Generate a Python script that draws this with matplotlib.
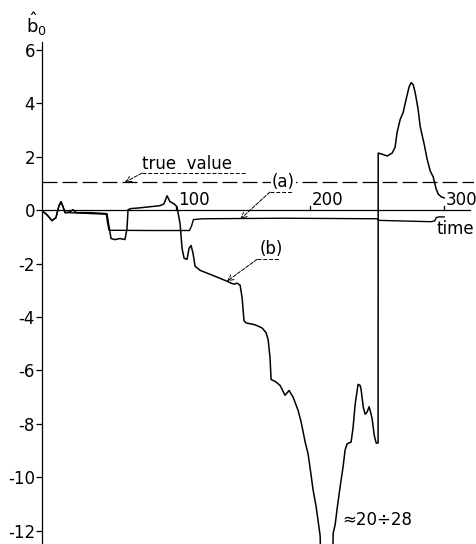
import numpy as np
import matplotlib.pyplot as plt

plt.rcParams['font.family'] = ['DejaVu Sans']
plt.rcParams['axes.unicode_minus'] = False

# estimated value of b0 over time
t_b = [0, 3.7, 7.5, 10.4, 12.7, 14.2, 15.7, 17.2, 20.9, 23.1, 25.4, 35.8, 48.5,
       50, 51.5, 54.5, 58.2, 61.9, 63.4, 64.2, 66.4, 73.1, 80.6, 88, 91, 93.3,
       95.5, 98.5, 100.7, 103, 104.5, 106, 108.2, 109.7, 111.2, 112.7, 114.2,
       117.9, 125.4, 132.8, 138, 141, 143.3, 145.5, 147.8, 149.3, 150.7, 152.2,
       158.9, 164.2, 167.2, 168.7, 170.1, 170.9, 173.9, 177.6, 181.3, 184.3,
       187.3, 191, 193.3, 196.3, 198.5, 200.7, 202.2, 204.5, 206, 207.5, 212.5,
       217.2, 218.7, 220.1, 222.4, 224.6, 226.1, 227.6, 230.6, 232.1, 233.6,
       235.1, 235.8, 237.3, 238, 239.6, 241, 242.5, 244, 245.5, 246.3, 247.8,
       249.3, 250.7, 250.8, 253.7, 257.5, 261.2, 263.4, 264.9, 267.2, 269.4,
       271.6, 273.9, 275.4, 276.9, 278.4, 280.6, 282.1, 285.1, 287.3, 289.6,
       291.8, 294, 295.5, 297.8, 300]
b_b = [-0.02, -0.17, -0.39, -0.28, 0.17, 0.32, 0.13, -0.09, -0.06, 0.02, -0.09,
       -0.09, -0.13, -0.61, -1.06, -1.1, -1.06, -1.1, -0.69, 0.02, 0.06, 0.09,
       0.13, 0.17, 0.24, 0.54, 0.32, 0.24, 0.13, -0.5, -1.43, -1.8, -1.84,
       -1.43, -1.32, -1.62, -2.1, -2.25, -2.4, -2.55, -2.66, -2.73, -2.77,
       -2.73, -2.81, -3.29, -4.14, -4.22, -4.29, -4.41, -4.59, -4.85, -5.52,
       -6.34, -6.41, -6.56, -6.93, -6.75, -7.0, -7.49, -7.93, -8.68, -9.13,
       -9.91, -10.47, -11.1, -11.65, -12.2, -24, -12.1, -11.77, -11.2, -10.35,
       -9.61, -8.98, -8.75, -8.68, -8.12, -7.27, -6.75, -6.52, -6.56, -6.7,
       -7.36, -7.64, -7.56, -7.36, -7.64, -7.82, -8.42, -8.72, -8.72, 2.14,
       2.1, 2.03, 2.14, 2.36, 2.92, 3.4, 3.66, 4.15, 4.63, 4.78, 4.7, 4.4,
       3.77, 3.14, 2.47, 1.91, 1.47, 1.25, 0.8, 0.61, 0.5, 0.46]

t_a = [0, 3.7, 7.5, 10.4, 12.7, 14.2, 15.7, 17.2, 25, 48, 49, 50, 80, 110,
       111.5, 113, 120, 180, 250, 251, 290, 293, 294, 296, 300]
b_a = [-0.02, -0.17, -0.39, -0.28, 0.17, 0.32, 0.13, -0.09, -0.1, -0.15, -0.5,
       -0.75, -0.76, -0.76, -0.6, -0.35, -0.32, -0.3, -0.32, -0.38, -0.43,
       -0.4, -0.28, -0.25, -0.25]

true_value = 1.05
yticks = [6, 4, 2, 0, -2, -4, -6, -8, -10, -12]
xticks = [100, 200, 300]

fig = plt.figure(figsize=(4.77, 5.44), dpi=100)
ax = fig.add_axes([0.088, 0.0, 0.905, 0.9228])
ax.set_xlim(0, 322)
ax.set_ylim(-12.5, 6.3)

# curves
ax.plot(t_a, b_a, color='black', lw=1.0)
ax.plot(t_b, b_b, color='black', lw=1.1)

# time axis at zero and true value
ax.plot([0, 319], [0, 0], color='black', lw=0.9)
ax.plot([0, 322], [true_value, true_value], color='black', lw=0.9,
        dashes=(12, 4))

for xt in xticks:
    ax.plot([xt, xt], [0, 0.17], color='black', lw=0.9)
    ax.text(xt + 1.2, 0.05, str(xt), ha='left', va='bottom', fontsize=12)
ax.text(294.5, -0.38, 'time', ha='left', va='top', fontsize=12)

# labels with leaders
ax.text(74.6, 1.39, 'true  value', ha='left', va='bottom', fontsize=12)
ax.plot([74.6, 151.5], [1.39, 1.39], color='black', lw=0.7, dashes=(4, 2))
ax.annotate('', xy=(61.9, true_value), xytext=(74.6, 1.39),
            arrowprops=dict(arrowstyle='->', lw=0.7, ls='--',
                            shrinkA=0, shrinkB=0))

ax.text(171.6, true_value, '(a)', ha='left', va='center', fontsize=12,
        bbox=dict(facecolor='white', edgecolor='none', pad=0.5))
ax.plot([170, 187], [0.68, 0.68], color='black', lw=0.7, dashes=(4, 2))
ax.annotate('', xy=(148, -0.33), xytext=(170, 0.68),
            arrowprops=dict(arrowstyle='->', lw=0.7, ls='--',
                            shrinkA=0, shrinkB=0))

ax.text(162, -1.78, '(b)', ha='left', va='bottom', fontsize=12)
ax.plot([160.4, 177.6], [-1.84, -1.84], color='black', lw=0.7, dashes=(4, 2))
ax.annotate('', xy=(138, -2.66), xytext=(160.4, -1.84),
            arrowprops=dict(arrowstyle='->', lw=0.7, ls='--',
                            shrinkA=0, shrinkB=0))

ax.text(224, -11.6, '\u224820\u00f728', ha='left', va='center', fontsize=12)

# axes styling
for s in ['top', 'right', 'bottom']:
    ax.spines[s].set_visible(False)
ax.spines['left'].set_linewidth(0.9)
ax.set_xticks([])
ax.set_yticks(yticks)
ax.set_yticklabels([str(v) for v in yticks])
ax.tick_params(axis='y', direction='out', length=4, width=0.9, pad=1,
               labelsize=12)
fig.text(0.055, 0.955, r'$\hat{\mathrm{b}}_0$', fontsize=13, ha='left',
         va='center')

fig.savefig('out.png', dpi=100)
